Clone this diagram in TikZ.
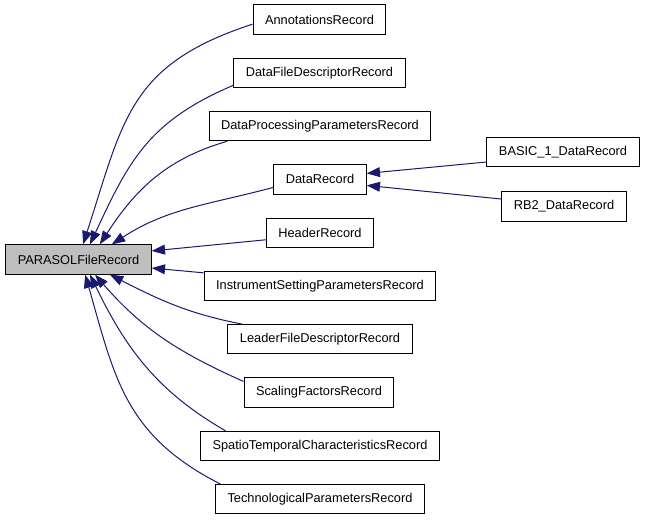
\documentclass[tikz,border=0pt]{standalone}
\usepackage{fontspec}
\setmainfont{Liberation Sans}
\usetikzlibrary{arrows.meta}
\definecolor{edgeblue}{RGB}{25,25,112}
\definecolor{basegray}{RGB}{191,191,191}

\begin{document}
\begin{tikzpicture}[x=0.75pt, y=-0.75pt,
    rec/.style={draw, line width=0.75pt, minimum height=22pt, inner xsep=9pt,
        font=\fontsize{9.6}{11}\selectfont},
    edge/.style={edgeblue, line width=0.75pt, {Triangle[length=10pt,width=7.4pt]}-}]
    \useasboundingbox (0,0) rectangle (645,520);
    % Nodes
    \node[rec, fill=basegray] (base) at (78.5,259.5) {PARASOLFileRecord};
    \node[rec] (annot) at (319.5,19.5) {AnnotationsRecord};
    \node[rec] (dfd) at (319.5,72.8) {DataFileDescriptorRecord};
    \node[rec] (dpp) at (320,126.1) {DataProcessingParametersRecord};
    \node[rec] (data) at (320,179.4) {DataRecord};
    \node[rec] (header) at (320,232.7) {HeaderRecord};
    \node[rec] (instr) at (320,286) {InstrumentSettingParametersRecord};
    \node[rec] (leader) at (320,339.3) {LeaderFileDescriptorRecord};
    \node[rec] (scaling) at (319,392.6) {ScalingFactorsRecord};
    \node[rec] (spatio) at (320,445.9) {SpatioTemporalCharacteristicsRecord};
    \node[rec] (techno) at (320,499.2) {TechnologicalParametersRecord};
    \node[rec] (basic) at (563,152) {BASIC\_1\_DataRecord};
    \node[rec] (rbtwo) at (564,206.5) {RB2\_DataRecord};

    % Arrows
    \draw[edge] ([xshift=3.4pt]base.north) to[out=72, in=198, looseness=1.2] ([yshift=-3.5pt]annot.west);
    \draw[edge] ([xshift=8.6pt]base.north) to[out=65, in=203, looseness=1.1] ([yshift=2pt]dfd.south west);
    \draw[edge] ([xshift=16pt]base.north) to[out=57, in=196] ([xshift=14pt]dpp.south west);
    \draw[edge] ([xshift=25pt]base.north) to[out=33, in=195] ([yshift=-6pt]data.west);
    \draw[edge] ([yshift=6.4pt]base.east) -- ([yshift=-5.3pt]header.west);
    \draw[edge] ([yshift=-6.4pt]base.east) -- ([yshift=-1.5pt]instr.north west);
    \draw[edge] ([xshift=23.6pt]base.south) to[out=-27, in=169] ([xshift=11pt]leader.north west);
    \draw[edge] ([xshift=12.4pt]base.south) to[out=-49, in=156] ([yshift=-3pt]scaling.north west);
    \draw[edge] ([xshift=8.6pt]base.south) to[out=-64, in=150] ([xshift=19pt]spatio.north west);
    \draw[edge] ([xshift=5pt]base.south) to[out=-74, in=153, looseness=1.1] ([xshift=4pt]techno.north west);
    \draw[edge] ([yshift=4.5pt]data.east) -- ([yshift=-7.5pt]basic.west);
    \draw[edge] ([yshift=-4.5pt]data.east) -- ([yshift=5.6pt]rbtwo.west);
\end{tikzpicture}
\end{document}
